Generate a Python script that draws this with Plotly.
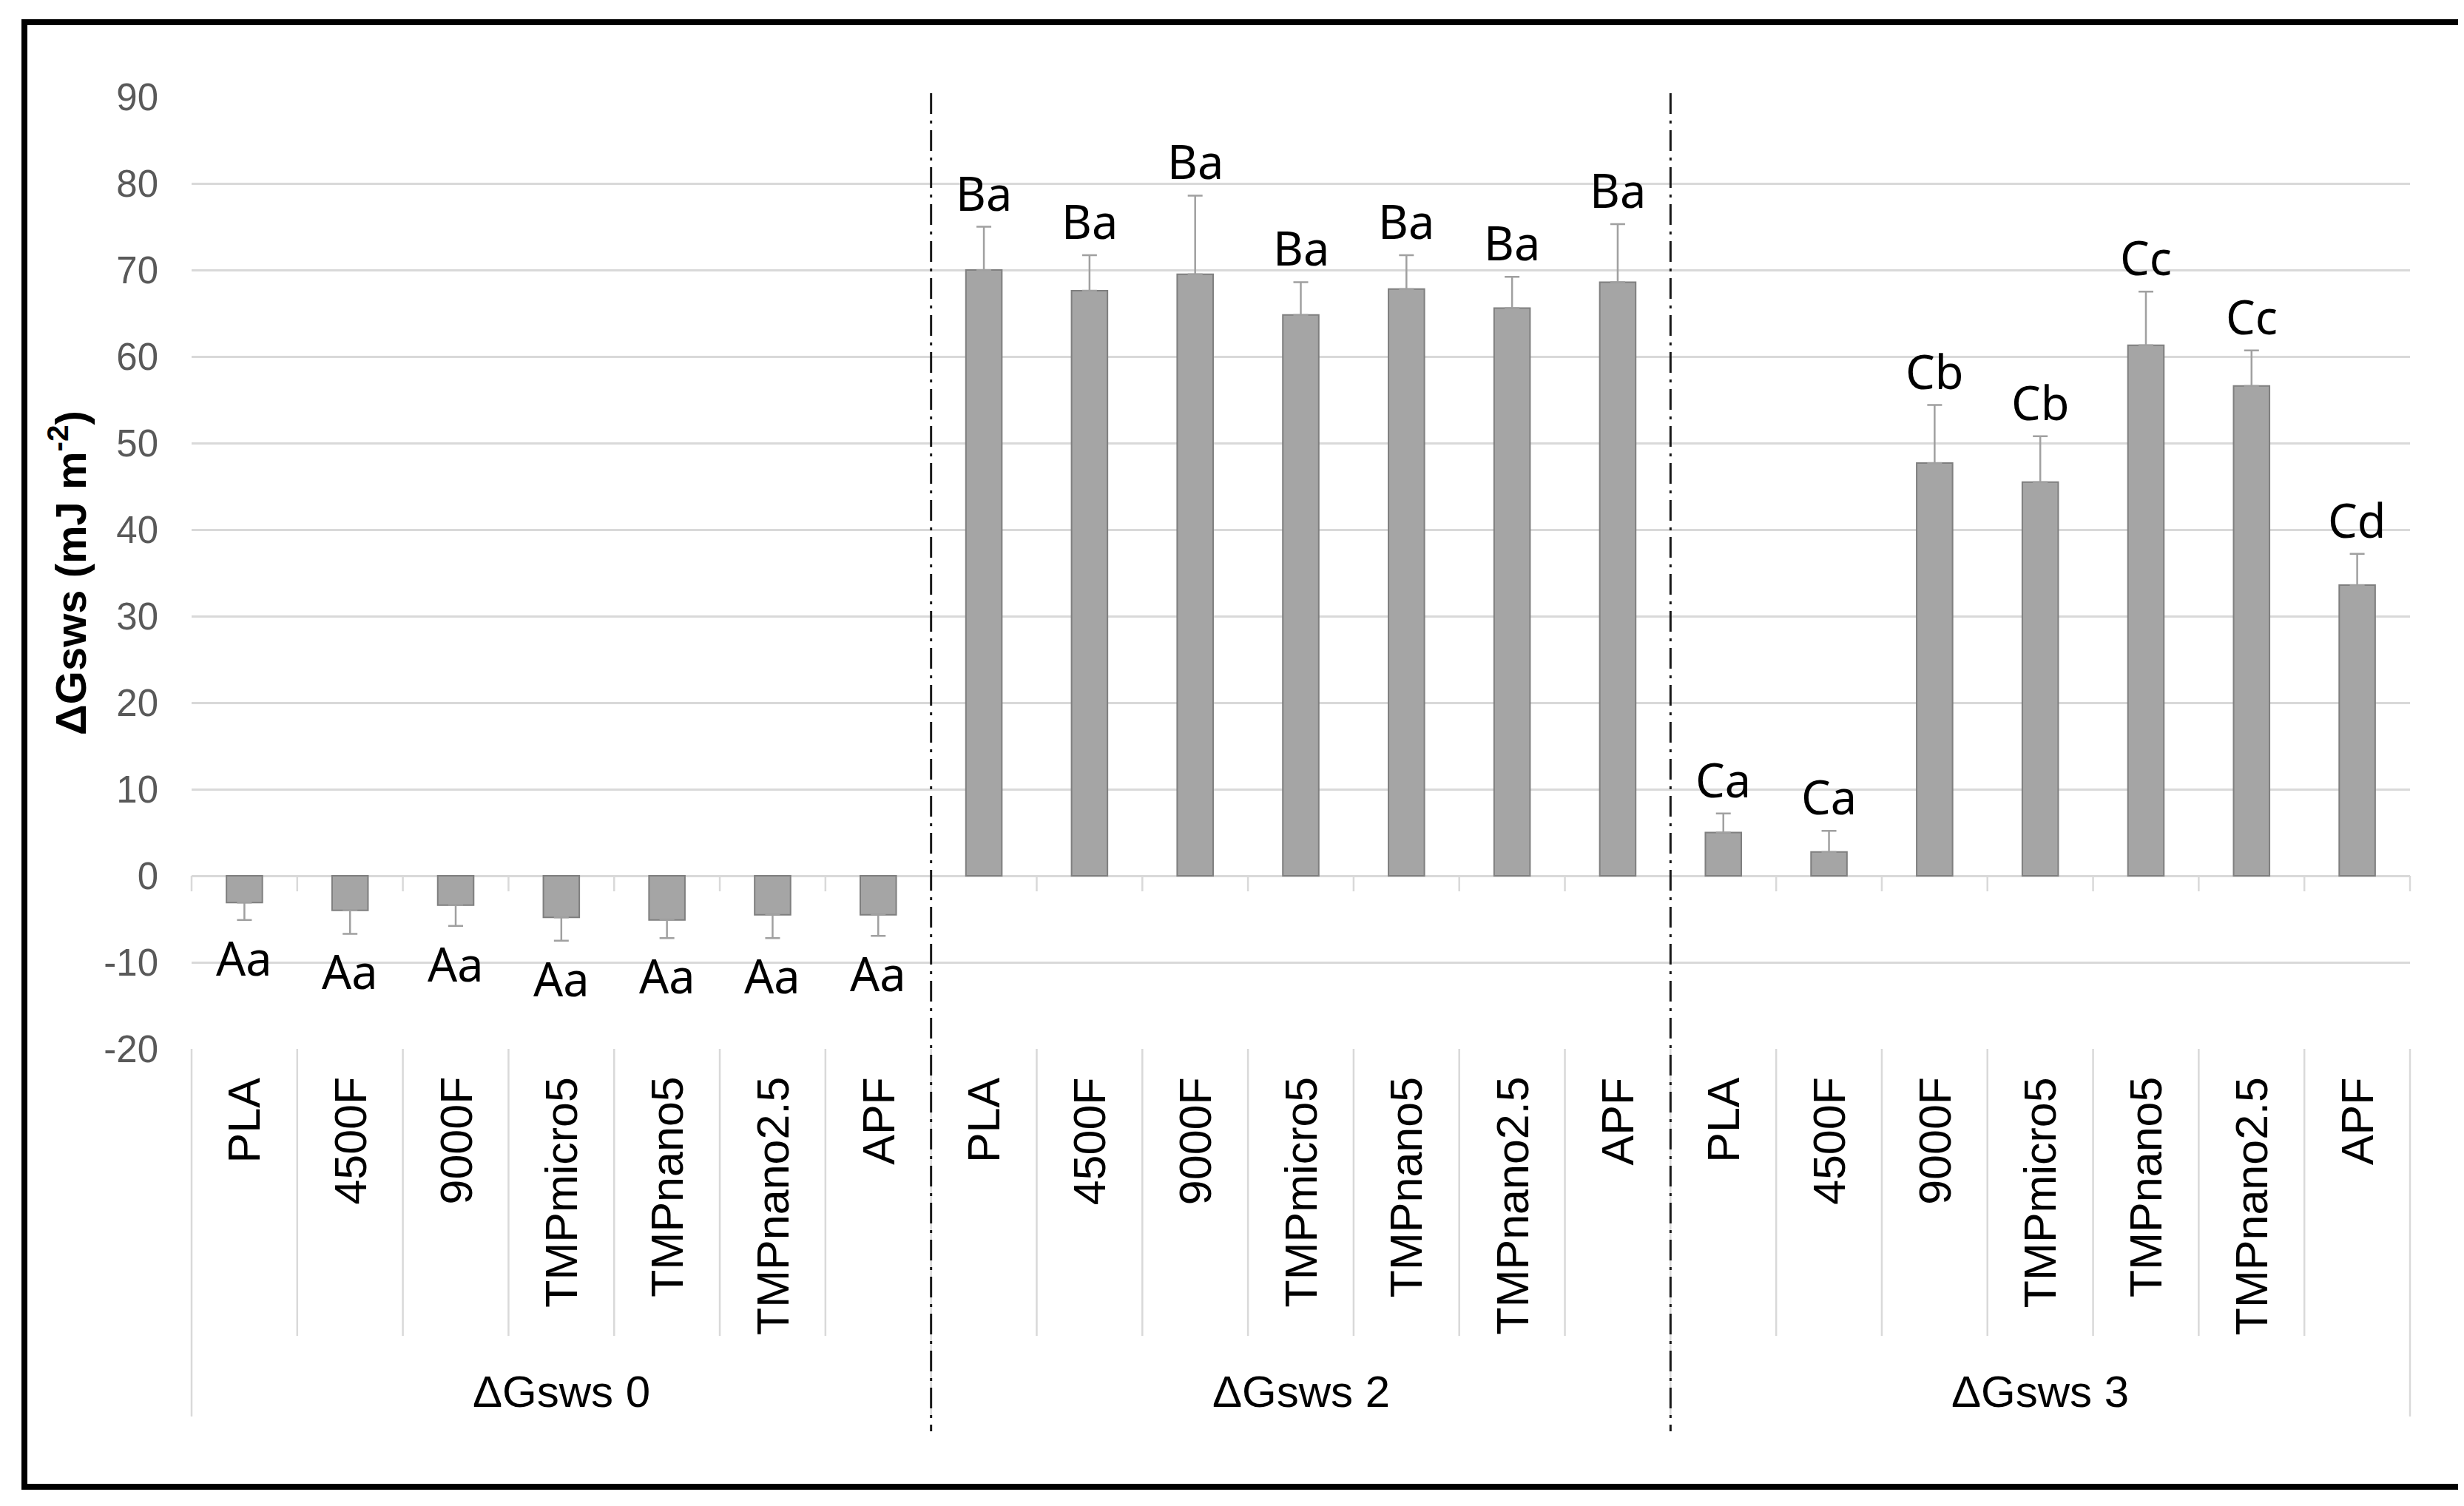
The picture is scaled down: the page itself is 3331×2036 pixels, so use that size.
import plotly.graph_objects as go

# ---------------- data ----------------
groups = ["ΔGsws 0", "ΔGsws 2", "ΔGsws 3"]
materials = ["PLA", "4500F", "9000F", "TMPmicro5", "TMPnano5", "TMPnano2.5", "APF"]

g0_mean = [-3.1, -4.0, -3.4, -4.8, -5.1, -4.5, -4.5]
g0_err = [2.0, 2.7, 2.4, 2.7, 2.1, 2.7, 2.45]
g0_letters = ["Aa", "Aa", "Aa", "Aa", "Aa", "Aa", "Aa"]

g2_mean = [70.0, 67.6, 69.5, 64.8, 67.8, 65.6, 68.6]
g2_err = [5.0, 4.1, 9.1, 3.8, 3.9, 3.6, 6.7]
g2_letters = ["Ba", "Ba", "Ba", "Ba", "Ba", "Ba", "Ba"]

g3_mean = [5.0, 2.75, 47.7, 45.5, 61.3, 56.6, 33.6]
g3_err = [2.2, 2.45, 6.7, 5.3, 6.2, 4.1, 3.6]
g3_letters = ["Ca", "Ca", "Cb", "Cb", "Cc", "Cc", "Cd"]

y_ticks = [-20, -10, 0, 10, 20, 30, 40, 50, 60, 70, 80, 90]
y_ticktext = ["-20", "-10", "0", "10", "20", "30", "40", "50", "60", "70", "80", "90"]
y_title = "ΔGsws (mJ m<sup>-2</sup>)"

# ---------------- layout constants ----------------
W, H = 3331, 2036
ML, MR, MT, MB = 251, 81, 123, 626
PW = W - ML - MR
PH = H - MT - MB
PLOT_BOTTOM = H - MB


def py(pixel_y):
    """pixel y (from top of figure) -> paper y"""
    return (PLOT_BOTTOM - pixel_y) / PH


def px(pixel_x):
    return (pixel_x - ML) / PW


means = g0_mean + g2_mean + g3_mean
errs = g0_err + g2_err + g3_err
letters = g0_letters + g2_letters + g3_letters
cats = materials * len(groups)
xs = list(range(len(means)))
n_per = len(materials)

err_up = [e if m >= 0 else 0 for m, e in zip(means, errs)]
err_dn = [e if m < 0 else 0 for m, e in zip(means, errs)]

fig = go.Figure()
fig.add_trace(go.Bar(
    x=xs, y=means, width=0.34,
    marker=dict(color="#A5A5A5", line=dict(color="#7F7F7F", width=2)),
    error_y=dict(type="data", symmetric=False, array=err_up, arrayminus=err_dn,
                 color="#A0A0A0", thickness=2.5, width=10),
    showlegend=False, hoverinfo="skip",
))

annotations = []
# significance letters
for x, m, e, t in zip(xs, means, errs, letters):
    if m >= 0:
        annotations.append(dict(x=x, y=m + e, xref="x", yref="y", text=t, showarrow=False,
                                yanchor="bottom", yshift=2,
                                font=dict(family="Noto Sans", size=63, color="black")))
    else:
        annotations.append(dict(x=x, y=m - e, xref="x", yref="y", text=t, showarrow=False,
                                yanchor="top", yshift=-6,
                                font=dict(family="Noto Sans", size=63, color="black")))

# category labels (rotated)
for x, c in zip(xs, cats):
    annotations.append(dict(x=x, y=py(1446), xref="x", yref="paper", text=c, showarrow=False,
                            textangle=-90, yanchor="top", xanchor="center",
                            font=dict(family="Liberation Sans", size=61, color="black")))

# group labels
for gi, g in enumerate(groups):
    annotations.append(dict(x=gi * n_per + (n_per - 1) / 2, y=py(1873), xref="x", yref="paper",
                            text=g, showarrow=False, yanchor="middle", xanchor="center",
                            font=dict(family="Liberation Sans", size=60, color="black")))

shapes = []
grid_col = "#D9D9D9"
n = len(means)
# tick marks at the zero line and table separators
for k in range(n + 1):
    xb = k - 0.5
    if k == 0:
        xr, xv = "paper", 0
    elif k == n:
        xr, xv = "paper", 1
    else:
        xr, xv = "x", xb
    shapes.append(dict(type="line", xref=xr, yref="y", x0=xv, x1=xv, y0=0, y1=-21,
                       ysizemode="pixel", yanchor=0,
                       line=dict(color=grid_col, width=2.5)))
    is_group = (k % n_per == 0)
    bottom = 1907 if is_group else 1798
    shapes.append(dict(type="line", xref=xr, yref="paper", x0=xv, x1=xv,
                       y0=0, y1=py(bottom), line=dict(color=grid_col, width=2.5)))

# dash-dot group dividers
for gi in range(1, len(groups)):
    xb = gi * n_per - 0.5
    shapes.append(dict(type="line", xref="x", yref="paper", x0=xb, x1=xb,
                       y0=py(118), y1=py(1927),
                       line=dict(color="#1A1A1A", width=3, dash="28px,9px,4px,9px")))

# outer frame
shapes.append(dict(type="rect", xref="paper", yref="paper",
                   x0=px(25), x1=px(3326), y0=py(2002), y1=py(22),
                   line=dict(color="black", width=8), fillcolor="rgba(0,0,0,0)", layer="above"))

fig.update_layout(
    width=W, height=H,
    margin=dict(l=ML, r=MR, t=MT, b=MB),
    paper_bgcolor="white", plot_bgcolor="white",
    annotations=annotations, shapes=shapes,
    xaxis=dict(range=[-0.5, n - 0.5], showticklabels=False, showgrid=False,
               zeroline=False, ticks="", showline=False),
    yaxis=dict(range=[-20, 90], tickvals=y_ticks, ticktext=y_ticktext,
               showgrid=True, gridcolor=grid_col, gridwidth=2.5,
               zeroline=False, showline=False, ticks="",
               tickfont=dict(family="Liberation Sans", size=51, color="#595959"),
               ticklabelstandoff=44,
               title=dict(text=y_title, standoff=4,
                          font=dict(family="Liberation Sans", size=58, color="black", weight="bold"))),
    bargap=0.5,
)

fig.write_html("out.html")
